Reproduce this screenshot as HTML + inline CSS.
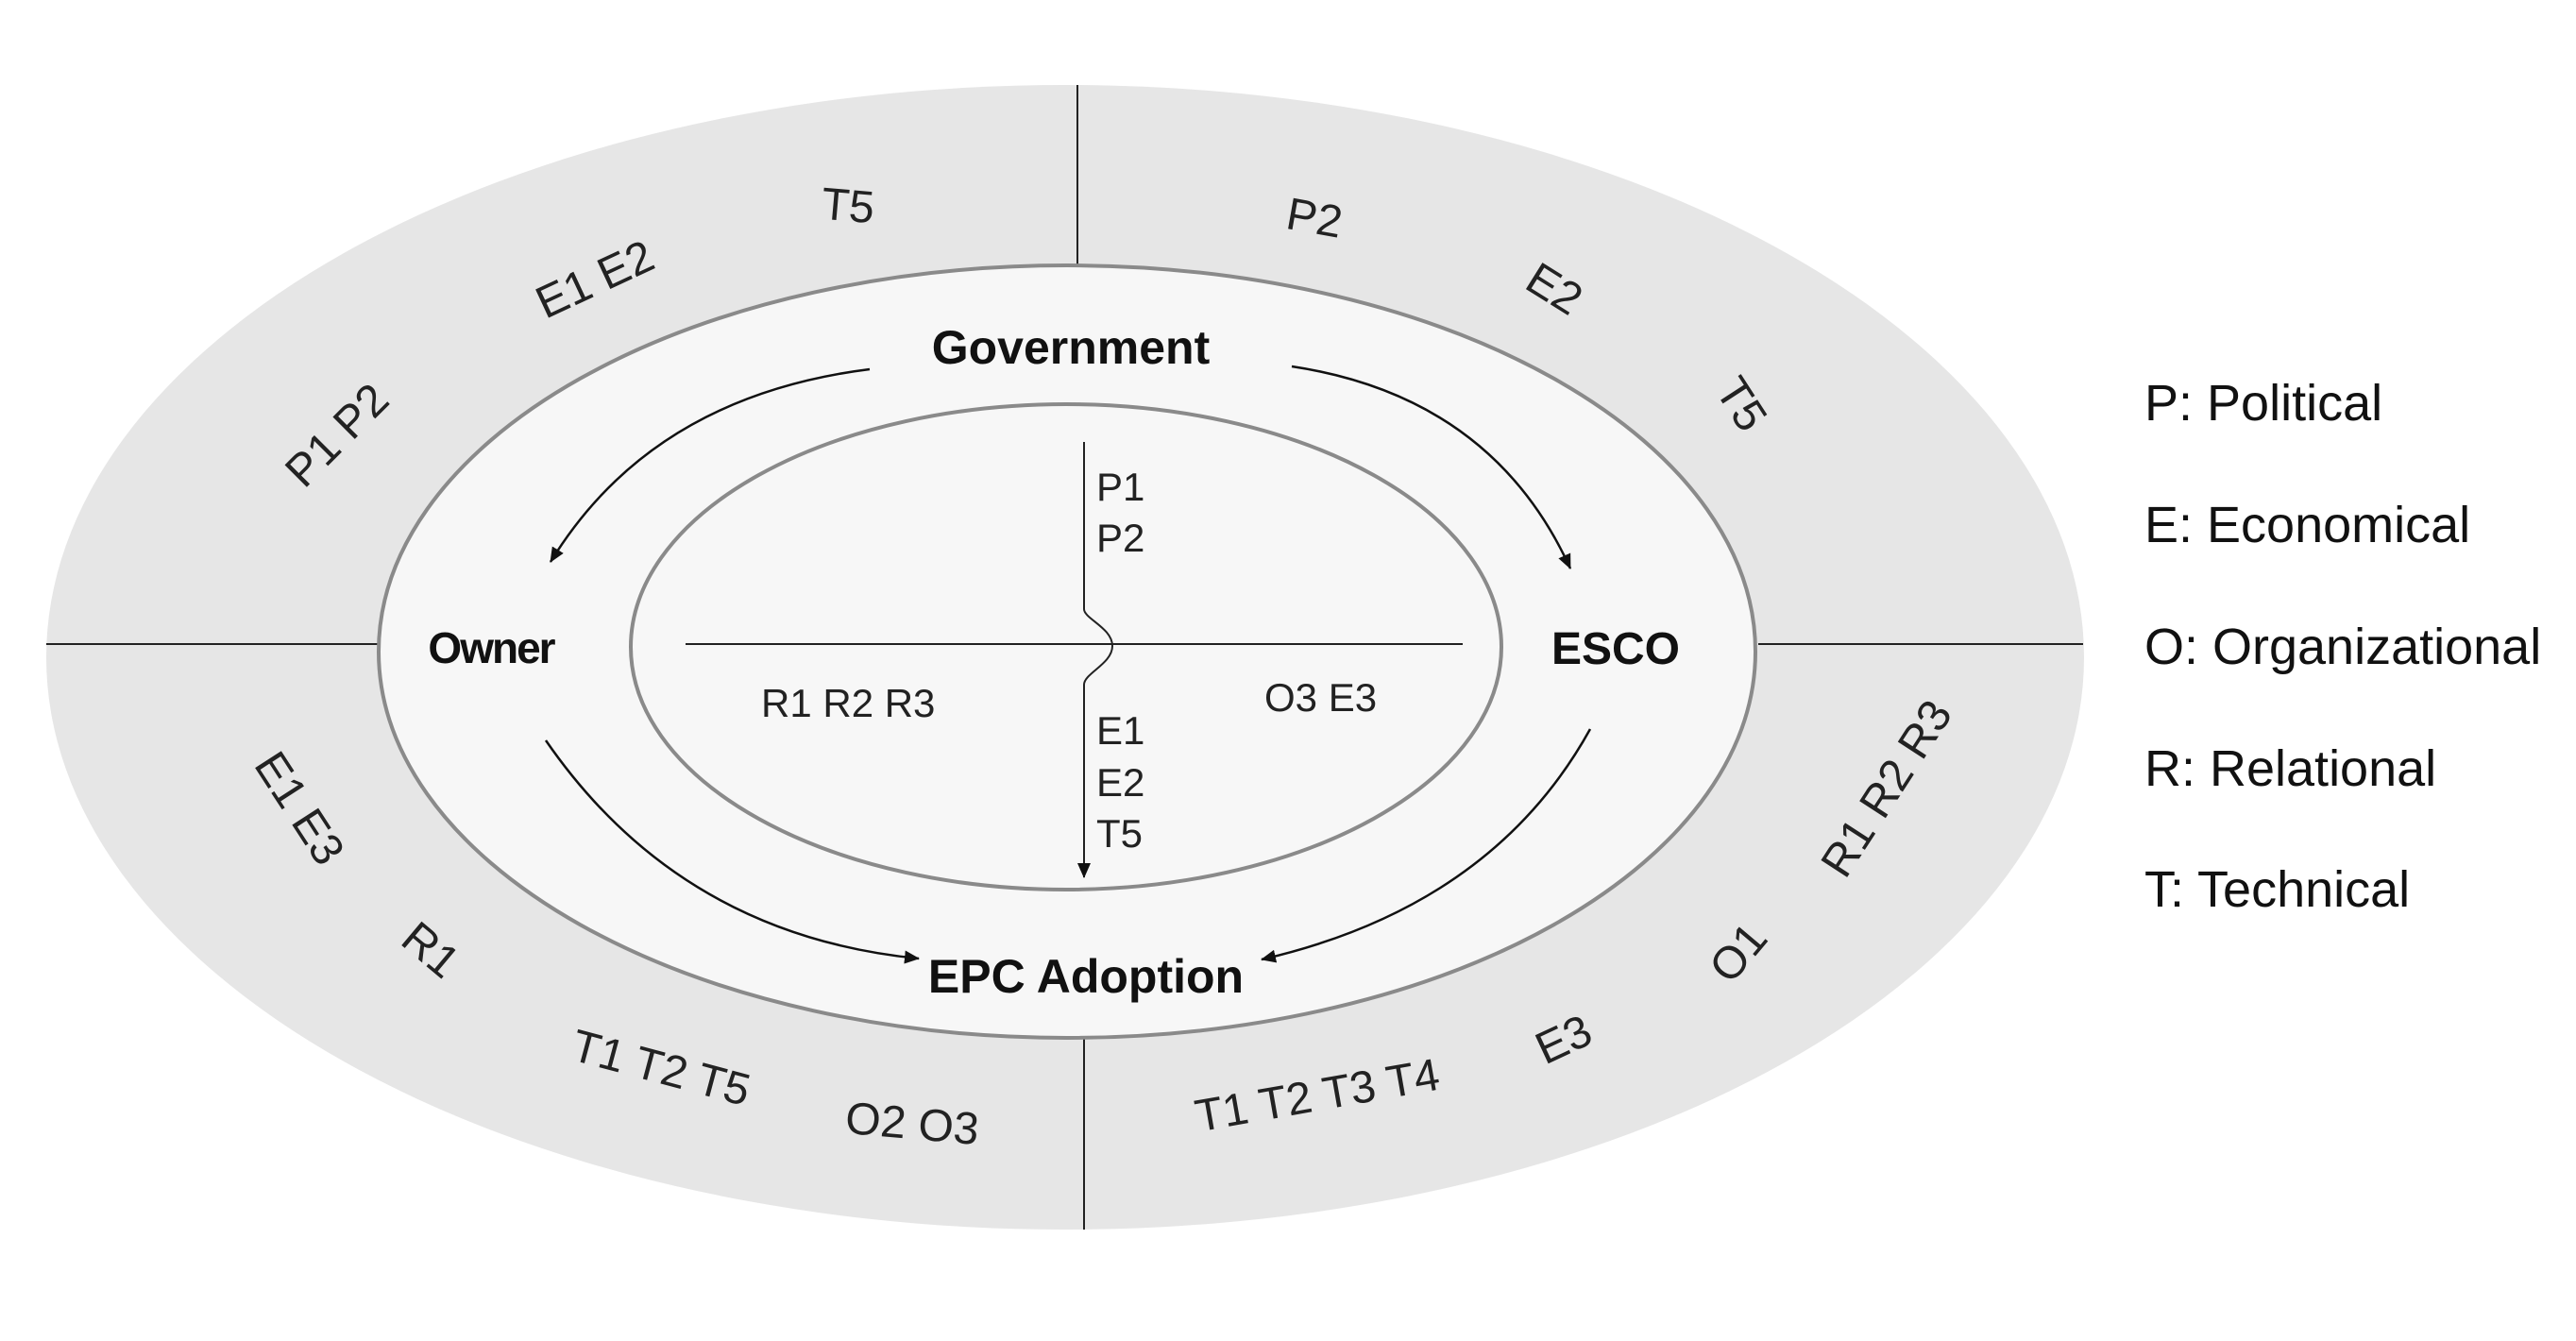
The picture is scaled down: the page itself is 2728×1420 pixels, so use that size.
<!DOCTYPE html>
<html><head><meta charset="utf-8"><style>html,body{margin:0;padding:0;background:#fff}svg{display:block}</style></head>
<body>
<svg width="2728" height="1420" viewBox="0 0 2728 1420" xmlns="http://www.w3.org/2000/svg" font-family="Liberation Sans, Arial, sans-serif">
<defs>
<marker id="ah2" markerWidth="16" markerHeight="14" refX="15" refY="7" orient="auto" markerUnits="userSpaceOnUse"><path d="M0,0 L16,7 L0,14 z" fill="#111"/></marker>
</defs>
<ellipse cx="1128" cy="696" rx="1079" ry="606" fill="#e6e6e6"/>
<line x1="49" y1="682" x2="401" y2="682" stroke="#222" stroke-width="2"/>
<line x1="1862" y1="682" x2="2206" y2="682" stroke="#222" stroke-width="2"/>
<line x1="1141" y1="90" x2="1141" y2="282" stroke="#222" stroke-width="2"/>
<line x1="1148" y1="1098" x2="1148" y2="1302" stroke="#222" stroke-width="2"/>
<ellipse cx="1130" cy="690" rx="729" ry="409" fill="#f7f7f7" stroke="#8a8a8a" stroke-width="4"/>
<ellipse cx="1129" cy="685" rx="461" ry="257" fill="#f7f7f7" stroke="#8a8a8a" stroke-width="4"/>
<line x1="726" y1="682" x2="1549" y2="682" stroke="#222" stroke-width="2"/>
<path d="M1148,468 L1148,645 C1148,655 1178,665 1178,684 C1178,703 1148,713 1148,725 L1148,929" fill="none" stroke="#222" stroke-width="2" marker-end="url(#ah2)"/>
<g font-size="42" fill="#222">
<text x="1161" y="530">P1</text><text x="1161" y="584">P2</text>
<text x="1161" y="788">E1</text><text x="1161" y="843">E2</text><text x="1161" y="897">T5</text>
<text x="806" y="759">R1 R2 R3</text>
<text x="1339" y="753">O3 E3</text>
</g>
<g fill="none" stroke="#111" stroke-width="2.5">
<path d="M921,391 Q690,420 583,595" marker-end="url(#ah2)"/>
<path d="M1368,388 Q1580,420 1663,602" marker-end="url(#ah2)"/>
<path d="M578,784 Q720,990 973,1015" marker-end="url(#ah2)"/>
<path d="M1684,772 Q1580,960 1336,1016" marker-end="url(#ah2)"/>
</g>
<g font-weight="bold" fill="#111" text-anchor="middle">
<text x="1134" y="385" font-size="50">Government</text>
<text x="520" y="702" font-size="46" letter-spacing="-2">Owner</text>
<text x="1711" y="703" font-size="48">ESCO</text>
<text x="1150" y="1051" font-size="50">EPC Adoption</text>
</g>
<g font-size="48" fill="#222" text-anchor="middle">
<text transform="translate(898,218) rotate(5)" dy="16">T5</text>
<text transform="translate(630,296) rotate(-25)" dy="16">E1 E2</text>
<text transform="translate(357,461) rotate(-45)" dy="16">P1 P2</text>
<text transform="translate(1392,231) rotate(10)" dy="16">P2</text>
<text transform="translate(1646,306) rotate(32)" dy="16">E2</text>
<text transform="translate(1844,428) rotate(57)" dy="16">T5</text>
<text transform="translate(317,856) rotate(57)" dy="16">E1 E3</text>
<text transform="translate(456,1006) rotate(40)" dy="16">R1</text>
<text transform="translate(700,1131) rotate(15)" dy="16">T1 T2 T5</text>
<text transform="translate(966,1190) rotate(5)" dy="16">O2 O3</text>
<text transform="translate(1395,1160) rotate(-10)" dy="16">T1 T2 T3 T4</text>
<text transform="translate(1656,1101) rotate(-25)" dy="16">E3</text>
<text transform="translate(1841,1009) rotate(-50)" dy="16">O1</text>
<text transform="translate(1998,835) rotate(-57)" dy="16">R1 R2 R3</text>
</g>
<g font-size="54" fill="#111">
<text x="2271" y="445">P: Political</text>
<text x="2271" y="574">E: Economical</text>
<text x="2271" y="703">O: Organizational</text>
<text x="2271" y="832">R: Relational</text>
<text x="2271" y="960">T: Technical</text>
</g>
</svg>
</body></html>
